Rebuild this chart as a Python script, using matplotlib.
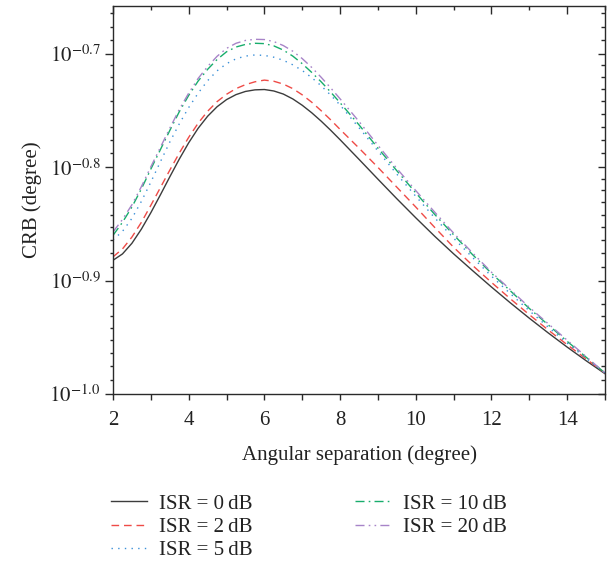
import numpy as np
import matplotlib
matplotlib.use("Agg")
import matplotlib.pyplot as plt

plt.rcParams['font.family'] = ['Liberation Serif', 'DejaVu Serif']
plt.rcParams['mathtext.fontset'] = 'stix'

# ---- data (CRB values stored as log10 exponents) ----
angular_sep = [2, 2.25, 2.5, 2.75, 3, 3.25, 3.5, 3.75, 4, 4.25, 4.5, 4.75, 5, 5.25,
               5.5, 5.75, 6, 6.25, 6.5, 6.75, 7, 7.25, 7.5, 7.75, 8, 8.5, 9, 9.5,
               10, 10.5, 11, 11.5, 12, 12.5, 13, 13.5, 14, 14.5, 15]

log_crb_0dB = [-0.882, -0.8764, -0.867, -0.8545, -0.840, -0.8244, -0.8084, -0.7928,
               -0.7783, -0.7655, -0.7549, -0.7465, -0.7402, -0.7358, -0.7330, -0.7316,
               -0.7313, -0.7326, -0.7353, -0.7396, -0.7452, -0.7518, -0.7592, -0.7672,
               -0.7756, -0.7929, -0.8104, -0.8277, -0.8445, -0.8608, -0.8763, -0.8911,
               -0.9056, -0.9196, -0.9331, -0.9461, -0.9586, -0.9706, -0.9821]
log_crb_2dB = [-0.879, -0.872, -0.8615, -0.8485, -0.8335, -0.818, -0.8025, -0.7875,
               -0.7735, -0.761, -0.7505, -0.742, -0.7355, -0.7305, -0.727, -0.7245,
               -0.723, -0.724, -0.7265, -0.7305, -0.736, -0.7425, -0.750, -0.758,
               -0.7665, -0.783, -0.800, -0.8175, -0.835, -0.853, -0.8705, -0.8865,
               -0.9015, -0.916, -0.930, -0.9435, -0.9565, -0.969, -0.9815]
log_crb_5dB = [-0.864, -0.8565, -0.845, -0.830, -0.813, -0.7952, -0.7777, -0.7617,
               -0.7472, -0.7345, -0.7235, -0.7148, -0.7085, -0.7042, -0.7018, -0.7008,
               -0.7012, -0.7028, -0.7055, -0.7095, -0.7145, -0.7208, -0.728, -0.7362,
               -0.745, -0.765, -0.7855, -0.806, -0.8255, -0.8445, -0.8625, -0.8795,
               -0.896, -0.9115, -0.9265, -0.941, -0.955, -0.9685, -0.9815]
log_crb_10dB = [-0.860, -0.8485, -0.835, -0.819, -0.8015, -0.7845, -0.7675, -0.751,
                -0.7365, -0.7238, -0.7135, -0.7048, -0.698, -0.6938, -0.6915, -0.6905,
                -0.6908, -0.6928, -0.6965, -0.7018, -0.7085, -0.7162, -0.7245, -0.7335,
                -0.743, -0.7625, -0.783, -0.803, -0.8225, -0.8415, -0.8595, -0.877,
                -0.8935, -0.909, -0.9245, -0.939, -0.9535, -0.9675, -0.9815]
log_crb_20dB = [-0.857, -0.846, -0.833, -0.817, -0.7995, -0.7825, -0.7655, -0.749,
                -0.7345, -0.7215, -0.711, -0.702, -0.695, -0.6905, -0.688, -0.687,
                -0.6872, -0.689, -0.6925, -0.6975, -0.704, -0.7118, -0.7205, -0.7298,
                -0.7395, -0.7595, -0.7805, -0.801, -0.8205, -0.8395, -0.858, -0.8755,
                -0.8925, -0.908, -0.9235, -0.938, -0.9525, -0.967, -0.9815]

series_labels = ['ISR = 0\u2009dB', 'ISR = 2\u2009dB', 'ISR = 5\u2009dB',
                 'ISR = 10\u2009dB', 'ISR = 20\u2009dB']
series_values = [log_crb_0dB, log_crb_2dB, log_crb_5dB, log_crb_10dB, log_crb_20dB]

x_ticks = [2, 4, 6, 8, 10, 12, 14]
y_tick_exponents = [-1.0, -0.9, -0.8, -0.7]

# ---- styles ----
colors = ['#3c3c3c', '#ef4b47', '#3a8fd8', '#18ad6c', '#a784c8']
dashes = [None, (5.5, 3.5), (1.0, 3.8), (6.5, 3.0, 1.2, 3.0), (6.5, 3.0, 1.2, 3.0, 1.2, 3.0)]
FS = 15

fig = plt.figure(figsize=(6.14, 5.71), dpi=100)
ax = fig.add_axes([113 / 614, 1 - 394 / 571, (605 - 113) / 614, (394 - 6) / 571])

for vals, lab, c, d in zip(series_values, series_labels, colors, dashes):
    y = np.power(10.0, np.array(vals))
    line, = ax.plot(angular_sep, y, color=c, lw=1.0, label=lab)
    if d is not None:
        line.set_dashes(d)

ax.set_yscale('log')
ax.set_xlim(2, 15)
ylo, yhi = 10 ** -1.0, 10 ** -0.6576
ax.set_ylim(ylo, yhi)

major_y = [10 ** e for e in y_tick_exponents]
minor_y = []
for e in y_tick_exponents:
    lo, hi = 10 ** e, 10 ** (e + 0.1)
    for i in range(1, 9):
        v = lo + (hi - lo) * i / 9
        if v < yhi:
            minor_y.append(v)

ax.set_yticks(major_y)
ax.set_yticklabels([r'$10^{%.1f}$' % e for e in y_tick_exponents])
ax.set_yticks(minor_y, minor=True)
ax.set_yticklabels([], minor=True)
ax.set_xticks(x_ticks)
ax.set_xticklabels([str(t) for t in x_ticks])
ax.set_xticks([3, 5, 7, 9, 11, 13, 15], minor=True)

spine_col = '#2a2a2a'
for s in ax.spines.values():
    s.set_color(spine_col)
    s.set_linewidth(1.0)

ax.tick_params(axis='both', which='both', direction='out', color=spine_col, width=1.0,
               labelsize=FS, labelcolor='#222222')
ax.tick_params(axis='y', which='major', length=6, pad=3)
ax.tick_params(axis='y', which='minor', length=2.5)
ax.tick_params(axis='x', which='major', length=4.5, pad=8)
ax.tick_params(axis='x', which='minor', length=4.5)

# mirrored inward ticks on top and right
axr = ax.twinx()
axr.set_yscale('log')
axr.set_ylim(ylo, yhi)
axr.set_yticks(major_y)
axr.set_yticks(minor_y, minor=True)
axr.set_yticklabels([])
axr.set_yticklabels([], minor=True)
axr.tick_params(axis='y', which='both', direction='in', color=spine_col, width=1.0)
axr.tick_params(axis='y', which='major', length=5)
axr.tick_params(axis='y', which='minor', length=3)

axt = ax.twiny()
axt.set_xlim(2, 15)
axt.set_xticks(x_ticks)
axt.set_xticks([3, 5, 7, 9, 11, 13, 15], minor=True)
axt.set_xticklabels([])
axt.tick_params(axis='x', which='both', direction='in', color=spine_col, width=1.0)
axt.tick_params(axis='x', which='major', length=5.5)
axt.tick_params(axis='x', which='minor', length=3)
for a in (axr, axt):
    for s in a.spines.values():
        s.set_visible(False)

ax.set_xlabel('Angular separation (degree)', fontsize=FS, color='#222222', labelpad=11)
ax.set_ylabel('CRB (degree)', fontsize=FS, color='#222222', labelpad=5)

handles, labels = ax.get_legend_handles_labels()
leg = fig.legend(handles, labels,
                 loc='upper left', bbox_to_anchor=(111 / 614, 1 - 494 / 571),
                 ncol=2, frameon=False, fontsize=FS, handlelength=1.75,
                 handletextpad=0.55, columnspacing=4.9, labelspacing=0.18,
                 borderpad=0, borderaxespad=0)
for t in leg.get_texts():
    t.set_color('#222222')

fig.savefig('out.png', dpi=100)
